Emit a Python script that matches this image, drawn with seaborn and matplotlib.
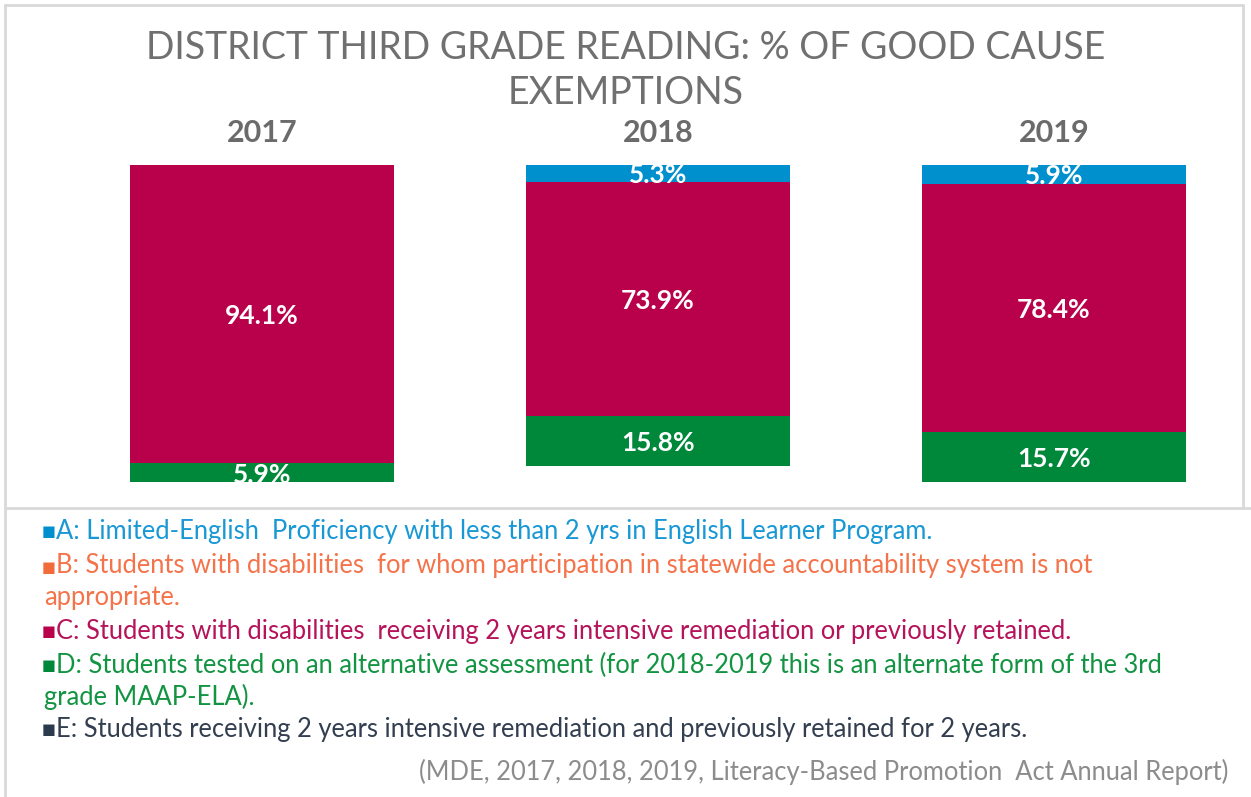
import matplotlib
matplotlib.use("Agg")
import matplotlib.pyplot as plt
from matplotlib.lines import Line2D
import seaborn as sns
import pandas as pd
import numpy as np

# ---- data ----
years = ["2017", "2018", "2019"]
cat_A = [0.0, 5.3, 5.9]     # Limited-English Proficiency
cat_B = [0.0, 0.0, 0.0]     # Students w/ disabilities, not appropriate
cat_C = [94.1, 73.9, 78.4]  # Students w/ disabilities, 2 yrs remediation
cat_D = [5.9, 15.8, 15.7]   # Alternative assessment
cat_E = [0.0, 0.0, 0.0]     # 2 yrs remediation and retained
categories = ["A", "B", "C", "D", "E"]
bar_colors = ["#0090CE", "#F26B3A", "#B8004B", "#00883A", "#2C3A4E"]
text_colors = ["#1A98D5", "#F4734A", "#B5135A", "#139442", "#333F50"]

title_lines = ["DISTRICT THIRD GRADE READING: % OF GOOD CAUSE", "EXEMPTIONS"]
legend_lines = [
    ("A", "A: Limited-English  Proficiency with less than 2 yrs in English Learner Program.", None),
    ("B", "B: Students with disabilities  for whom participation in statewide accountability system is not", "appropriate."),
    ("C", "C: Students with disabilities  receiving 2 years intensive remediation or previously retained.", None),
    ("D", "D: Students tested on an alternative assessment (for 2018-2019 this is an alternate form of the 3rd", "grade MAAP-ELA)."),
    ("E", "E: Students receiving 2 years intensive remediation and previously retained for 2 years.", None),
]
citation = "(MDE, 2017, 2018, 2019, Literacy-Based Promotion  Act Annual Report)"

sns.set_theme(style="white")
plt.rcParams["font.family"] = ["Lato", "DejaVu Sans"]

W, H = 1251, 797
fig = plt.figure(figsize=(W / 100, H / 100), dpi=100)
fig.patch.set_facecolor("white")

def px(x, y):
    return x / W, 1 - y / H

# axes: top at 165px, bottom at 482px
ax = fig.add_axes([64 / W, (H - 482) / H, 1188 / W, 317 / H])

df = pd.DataFrame({"year": years, "A": cat_A, "B": cat_B, "C": cat_C, "D": cat_D, "E": cat_E})
bottom = np.zeros(len(years))
for cat, col in zip(categories, bar_colors):
    vals = df[cat].to_numpy()
    sns.barplot(data=df, x="year", y=cat, color=col, width=0.667, bottom=bottom,
                errorbar=None, ax=ax, saturation=1, linewidth=0)
    for i, v in enumerate(vals):
        if v > 0:
            ax.text(i, bottom[i] + v / 2, f"{v:.1f}%", ha="center", va="center_baseline",
                    color="white", fontsize=19, fontweight="bold", clip_on=True)
    bottom = bottom + vals

ax.set_xlim(-0.5, 2.5)
ax.set_ylim(100, 0)
ax.axis("off")

for i, yr in enumerate(years):
    ax.text(i, -10.1, yr, ha="center", va="center", fontsize=22, fontweight="bold",
            color="#6B6B6B", clip_on=False)

# title
fig.text(*px(626, 48), title_lines[0], ha="center", va="center", fontsize=27,
         fontweight="normal", color="#707070")
fig.text(*px(626, 93), title_lines[1], ha="center", va="center", fontsize=27,
         fontweight="normal", color="#707070")

# legend text
FS = 18.4
ys = [531, 566, 631, 665, 729]
second_ys = {"B": 597, "D": 697}
for (key, line1, line2), y, tc, bc in zip(legend_lines, ys, text_colors, bar_colors):
    fig.text(*px(42, y + 1), "\u25A0", ha="left", va="center", fontsize=10.5,
             color=bc, family=["DejaVu Sans"])
    fig.text(*px(56, y), line1, ha="left", va="center", fontsize=FS, color=tc)
    if line2:
        fig.text(*px(44, second_ys[key]), line2, ha="left", va="center", fontsize=FS, color=tc)

fig.text(*px(1228, 772), citation, ha="right", va="center", fontsize=FS, color="#8C8C8C")

# frame lines
lc = "#D9D9D9"
fig.add_artist(Line2D([5 / W, 1243 / W], [1 - 5 / H, 1 - 5 / H], color=lc, lw=2))
fig.add_artist(Line2D([5 / W, 5 / W], [1 - 5 / H, 0], color=lc, lw=2))
fig.add_artist(Line2D([1243 / W, 1243 / W], [1 - 5 / H, 1 - 508 / H], color=lc, lw=2))
fig.add_artist(Line2D([5 / W, 1], [1 - 508 / H, 1 - 508 / H], color=lc, lw=2))

fig.savefig("out.png", dpi=100, facecolor="white")
